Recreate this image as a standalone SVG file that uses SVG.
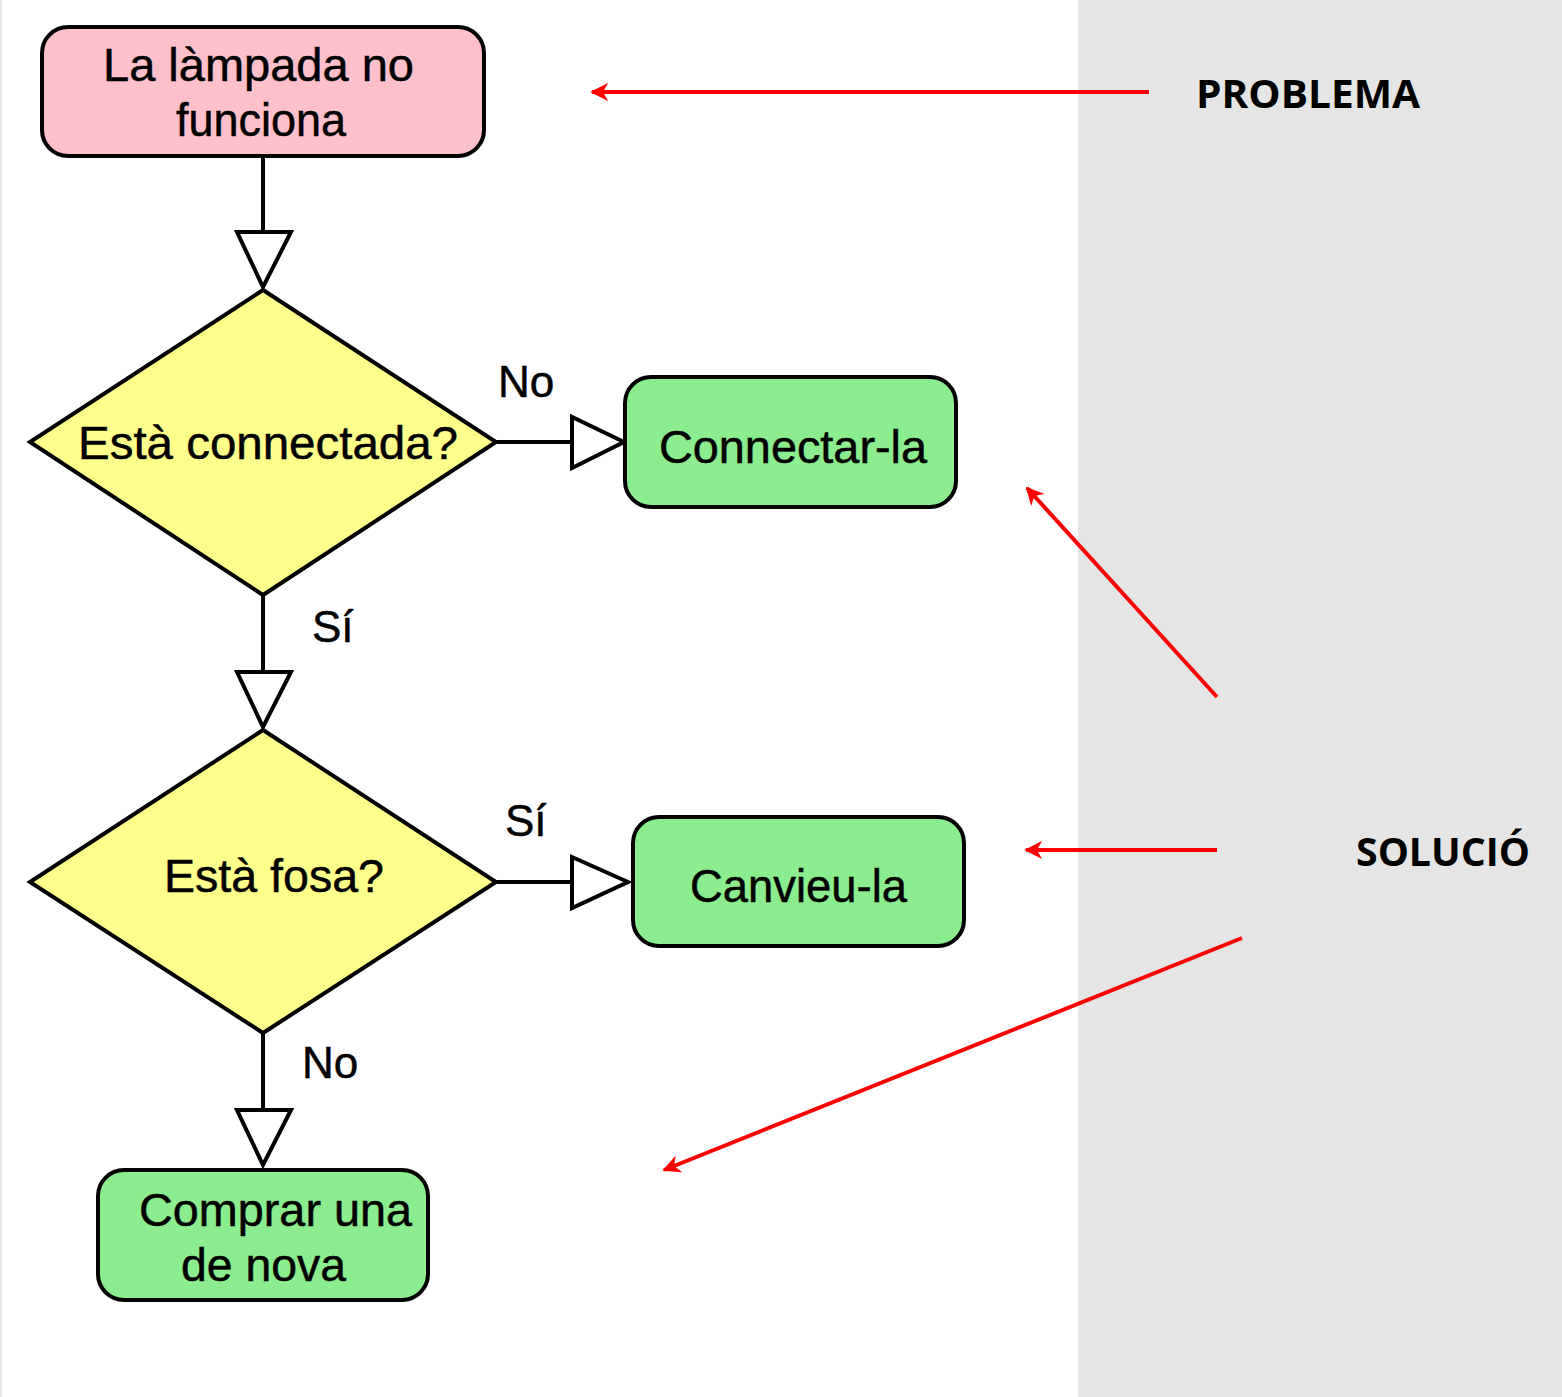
<svg xmlns="http://www.w3.org/2000/svg" width="1562" height="1397" viewBox="0 0 1562 1397">
<style>
.box{stroke:#000;stroke-width:4}
.t{font-family:"Liberation Sans",Arial,sans-serif;font-size:46px;fill:#000;stroke:#000;stroke-width:0.5;text-anchor:middle}
.lbl{font-family:"Liberation Sans",Arial,sans-serif;font-size:44px;fill:#000;stroke:#000;stroke-width:0.5}
.ln{stroke:#000;stroke-width:4;fill:none}
.tri{fill:#fff;stroke:#000;stroke-width:4;stroke-linejoin:miter}
.red{stroke:#ff0000;stroke-width:4;fill:none}
.side{font-family:"Open Sans","Liberation Sans",sans-serif;font-weight:bold;font-size:40px;fill:#000}
</style>
<defs>
<marker id="rh" viewBox="0 0 10 10" refX="9" refY="5" markerWidth="4.5" markerHeight="4.5" orient="auto" markerUnits="strokeWidth">
<path d="M0,0 L10,5 L0,10 L3,5 Z" fill="#ff0000"/>
</marker>
</defs>
<rect x="0" y="0" width="1562" height="1397" fill="#ffffff"/>
<rect x="0" y="0" width="2" height="1397" fill="#e6e6e6"/>
<rect x="1078" y="0" width="484" height="1397" fill="#e5e5e5"/>

<g id="connectors">
<line class="ln" x1="263" y1="156" x2="263" y2="232"/>
<polygon class="tri" points="237,232 291,232 263,287"/>
<line class="ln" x1="496" y1="442" x2="572" y2="442"/>
<polygon class="tri" points="572,417 572,468 624,442"/>
<line class="ln" x1="263" y1="595" x2="263" y2="672"/>
<polygon class="tri" points="237,672 291,672 263,727"/>
<line class="ln" x1="496" y1="882" x2="572" y2="882"/>
<polygon class="tri" points="572,857 572,908 628,882"/>
<line class="ln" x1="263" y1="1033" x2="263" y2="1110"/>
<polygon class="tri" points="237,1110 291,1110 263,1165"/>
<text class="lbl" x="498" y="397">No</text>
<text class="lbl" x="312" y="642">Sí</text>
<text class="lbl" x="505" y="836">Sí</text>
<text class="lbl" x="302" y="1078">No</text>
</g>

<g id="annotations">
<line class="red" x1="1149" y1="92" x2="592" y2="92" marker-end="url(#rh)"/>
<line class="red" x1="1217" y1="697" x2="1027" y2="488" marker-end="url(#rh)"/>
<line class="red" x1="1217" y1="850" x2="1026" y2="850" marker-end="url(#rh)"/>
<line class="red" x1="1242" y1="938" x2="664" y2="1170" marker-end="url(#rh)"/>
<text class="side" x="1196" y="108" textLength="224" lengthAdjust="spacingAndGlyphs">PROBLEMA</text>
<text class="side" x="1356" y="866" textLength="174" lengthAdjust="spacingAndGlyphs">SOLUCIÓ</text>
</g>

<g id="node-problema">
<rect class="box" x="42" y="27" width="442" height="129" rx="26" fill="#ffc0cb"/>
<text class="t" x="258.5" y="81" textLength="311" lengthAdjust="spacingAndGlyphs">La làmpada no</text>
<text class="t" x="261" y="136" textLength="170" lengthAdjust="spacingAndGlyphs">funciona</text>
</g>

<g id="node-connectada">
<polygon class="box" points="263,290 496,442 263,595 30,442" fill="#ffff8c"/>
<text class="t" x="268" y="459" textLength="380" lengthAdjust="spacingAndGlyphs">Està connectada?</text>
</g>

<g id="node-connectar">
<rect class="box" x="625" y="377" width="331" height="130" rx="26" fill="#8ced8e"/>
<text class="t" x="793" y="463" textLength="268" lengthAdjust="spacingAndGlyphs">Connectar-la</text>
</g>

<g id="node-fosa">
<polygon class="box" points="263,730 496,882 263,1033 30,882" fill="#ffff8c"/>
<text class="t" x="274" y="892" style="font-size:47px" textLength="220" lengthAdjust="spacingAndGlyphs">Està fosa?</text>
</g>

<g id="node-canvieu">
<rect class="box" x="633" y="817" width="331" height="129" rx="26" fill="#8ced8e"/>
<text class="t" x="798.5" y="902" textLength="217" lengthAdjust="spacingAndGlyphs">Canvieu-la</text>
</g>

<g id="node-comprar">
<rect class="box" x="98" y="1170" width="330" height="130" rx="26" fill="#8ced8e"/>
<text class="t" x="275.5" y="1226" textLength="273" lengthAdjust="spacingAndGlyphs">Comprar una</text>
<text class="t" x="263.5" y="1281" textLength="165" lengthAdjust="spacingAndGlyphs">de nova</text>
</g>
</svg>
